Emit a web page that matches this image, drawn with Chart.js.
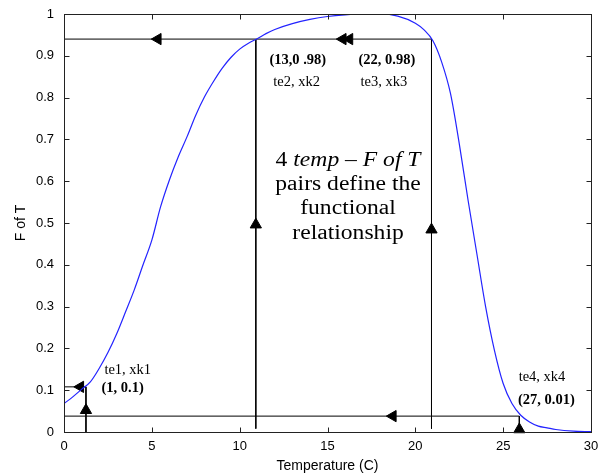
<!DOCTYPE html>
<html>
<head>
<meta charset="utf-8">
<script src="https://cdn.jsdelivr.net/npm/chart.js@4.4.1/dist/chart.umd.min.js"></script>
<style>
  html, body { margin: 0; padding: 0; background: #fff; }
  #wrap { width: 599px; height: 475px; }
</style>
</head>
<body>
<div id="wrap"><canvas id="myChart" width="599" height="475"></canvas></div>
<script>
// curve
const tempC = [0, 0.5, 1, 1.5, 2, 2.5, 3, 3.5, 4, 4.5, 5, 5.5, 6, 6.5, 7, 7.5, 8, 8.5, 9, 9.5, 10, 10.5, 11, 11.5, 12, 13, 14, 15, 16, 17, 18, 19, 20, 20.5, 21, 21.5, 22, 22.5, 23, 23.5, 24, 24.5, 25, 25.5, 26, 26.5, 27, 27.5, 28, 29, 30];
const fOfT = [0.068, 0.084, 0.102, 0.12, 0.152, 0.19, 0.235, 0.287, 0.34, 0.40, 0.459, 0.539, 0.603, 0.658, 0.706, 0.758, 0.802, 0.838, 0.87, 0.896, 0.916, 0.930, 0.941, 0.953, 0.963, 0.977, 0.987, 0.994, 0.998, 1.0, 1.0, 0.995, 0.978, 0.962, 0.936, 0.885, 0.81, 0.69, 0.555, 0.427, 0.30, 0.196, 0.116, 0.068, 0.04, 0.024, 0.014, 0.01, 0.006, 0.002, 0.001];

const xTicks = [0, 5, 10, 15, 20, 25, 30];
const xTickLabels = ['0', '5', '10', '15', '20', '25', '30'];
const yTicks = [0, 0.1, 0.2, 0.3, 0.4, 0.5, 0.6, 0.7, 0.8, 0.9, 1];
const yTickLabels = ['0', '0.1', '0.2', '0.3', '0.4', '0.5', '0.6', '0.7', '0.8', '0.9', '1'];

// black guide lines (start / end)
const lineT0 = [0, 10.92, 20.92, 0, 25.92, 1.25, 0];
const lineF0 = [0.94, 0.94, 0.94, 0.038, 0.038, 0.108, 0.108];
const lineT1 = [20.92, 10.92, 20.92, 25.92, 25.92, 1.25, 1.25];
const lineF1 = [0.94, 0.008, 0.008, 0.038, 0, 0, 0.108];

// arrow heads
const arrowT = [5.34, 15.87, 16.25, 10.92, 20.92, 18.72, 25.92, 1.25, 0.93];
const arrowF = [0.94, 0.94, 0.94, 0.496, 0.484, 0.038, 0.006, 0.052, 0.108];
const arrowDir = [270, 270, 270, 0, 0, 270, 0, 0, 270];

// small labels
const noteText = ['(13,0 .98)', 'te2, xk2', '(22, 0.98)', 'te3, xk3', 'te1, xk1', '(1, 0.1)', 'te4, xk4', '(27, 0.01)'];
const noteT = [13.31, 13.24, 18.38, 18.21, 3.63, 3.34, 27.21, 27.46];
const noteF = [0.890, 0.837, 0.890, 0.837, 0.148, 0.105, 0.132, 0.076];
const noteBold = [true, false, true, false, false, true, false, true];

// big text block, pieces are [text, italic]
const blockLines = [
  [['4 ', false], ['temp', true], [' \u2013 ', false], ['F of T', true]],
  [['pairs define the', false]],
  [['functional', false]],
  [['relationship', false]]
];
const blockT = 16.17;
const blockF = [0.650, 0.592, 0.533, 0.475];

const guideSets = lineT0.map((t, i) => ({
  data: [{x: t, y: lineF0[i]}, {x: lineT1[i], y: lineF1[i]}],
  borderColor: '#000',
  borderWidth: 1,
  pointRadius: 0
}));

const frame = {
  id: 'frame',
  afterDraw(chart) {
    const {ctx, chartArea: a, scales: {x, y}} = chart;
    const L = Math.round(a.left) + 0.5, R = Math.round(a.right) + 0.5;
    const T = Math.round(a.top) + 0.5, B = Math.round(a.bottom) + 0.5;
    ctx.save();
    ctx.strokeStyle = '#222';
    ctx.lineWidth = 1;
    ctx.strokeRect(L, T, R - L, B - T);
    ctx.beginPath();
    xTicks.forEach(v => {
      const px = Math.round(x.getPixelForValue(v)) + 0.5;
      ctx.moveTo(px, B); ctx.lineTo(px, B - 5);
      ctx.moveTo(px, T); ctx.lineTo(px, T + 5);
    });
    yTicks.forEach(v => {
      const py = Math.round(y.getPixelForValue(v)) + 0.5;
      ctx.moveTo(L, py); ctx.lineTo(L + 5, py);
      ctx.moveTo(R, py); ctx.lineTo(R - 5, py);
    });
    ctx.stroke();
    ctx.restore();
  }
};

const notes = {
  id: 'notes',
  afterDatasetsDraw(chart) {
    const {ctx, scales: {x, y}} = chart;
    ctx.save();
    ctx.fillStyle = '#000';
    ctx.textBaseline = 'middle';
    ctx.textAlign = 'center';
    noteText.forEach((t, i) => {
      ctx.font = (noteBold[i] ? 'bold ' : '') + '14.5px "Liberation Serif"';
      ctx.fillText(t, x.getPixelForValue(noteT[i]), y.getPixelForValue(noteF[i]));
    });

    // big block, a bit wider than the font
    const stretch = 1.18;
    const cx = x.getPixelForValue(blockT);
    ctx.textAlign = 'left';
    blockLines.forEach((pieces, i) => {
      const fontOf = it => (it ? 'italic ' : '') + '20px "Liberation Serif"';
      let w = 0;
      pieces.forEach(p => { ctx.font = fontOf(p[1]); w += ctx.measureText(p[0]).width; });
      ctx.save();
      ctx.translate(cx, y.getPixelForValue(blockF[i]));
      ctx.scale(stretch, 1);
      let px = -w / 2;
      pieces.forEach(p => {
        ctx.font = fontOf(p[1]);
        ctx.fillText(p[0], px, 0);
        px += ctx.measureText(p[0]).width;
      });
      ctx.restore();
    });
    ctx.restore();
  }
};

const chart = new Chart('myChart', {
  type: 'line',
  data: {
    datasets: [
      {
        data: tempC.map((t, i) => ({x: t, y: fOfT[i]})),
        borderColor: 'rgb(35,35,255)',
        borderWidth: 1.2,
        pointRadius: 0,
        cubicInterpolationMode: 'monotone'
      },
      ...guideSets,
      {
        data: arrowT.map((t, i) => ({x: t, y: arrowF[i]})),
        showLine: false,
        pointStyle: 'triangle',
        pointRadius: 6.5,
        pointRotation: arrowDir,
        backgroundColor: '#000',
        borderColor: '#000',
        borderWidth: 1,
        clip: false
      }
    ]
  },
  options: {
    responsive: false,
    animation: false,
    devicePixelRatio: 1,
    layout: { padding: { top: 14, right: 8, bottom: 0, left: 0 } },
    plugins: { legend: { display: false }, tooltip: { enabled: false } },
    scales: {
      x: {
        type: 'linear',
        min: 0,
        max: 30,
        afterBuildTicks: s => { s.ticks = xTicks.map(v => ({value: v})); },
        afterFit: s => { s.height = 43; s.paddingLeft = 0; s.paddingRight = 0; },
        ticks: {
          callback: (v, i) => xTickLabels[i],
          color: '#000',
          padding: 7,
          maxRotation: 0,
          font: { family: '"Liberation Sans", Arial', size: 13 }
        },
        grid: { drawOnChartArea: false, drawTicks: false },
        border: { display: false },
        title: {
          display: true,
          text: 'Temperature (C)',
          color: '#000',
          padding: { top: 0, bottom: 0 },
          font: { family: '"Liberation Sans", Arial', size: 14 }
        }
      },
      y: {
        min: 0,
        max: 1,
        afterBuildTicks: s => { s.ticks = yTicks.map(v => ({value: v})); },
        afterFit: s => { s.width = 64; s.paddingTop = 0; s.paddingBottom = 0; },
        ticks: {
          callback: (v, i) => yTickLabels[i],
          color: '#000',
          padding: 10,
          font: { family: '"Liberation Sans", Arial', size: 13 }
        },
        grid: { drawOnChartArea: false, drawTicks: false },
        border: { display: false },
        title: {
          display: true,
          text: 'F of T',
          color: '#000',
          padding: { top: 13, bottom: 0 },
          font: { family: '"Liberation Sans", Arial', size: 14 }
        }
      }
    }
  },
  plugins: [frame, notes]
});
</script>
</body>
</html>
